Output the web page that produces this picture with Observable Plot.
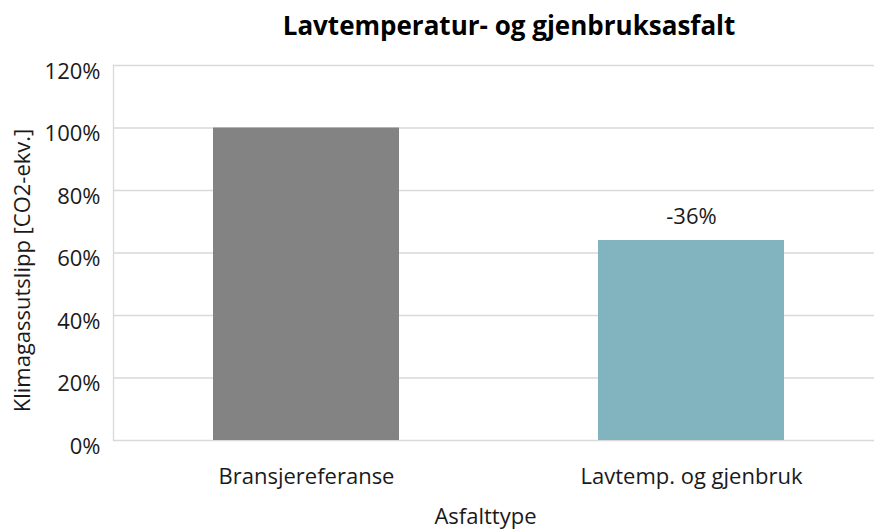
<!DOCTYPE html>
<html>
<head>
<meta charset="utf-8">
<script src="https://cdn.jsdelivr.net/npm/d3@7"></script>
<script src="https://cdn.jsdelivr.net/npm/@observablehq/plot@0.6"></script>
<style>
  html, body { margin: 0; padding: 0; background: #fff; }
  svg { display: block; }
</style>
</head>
<body>
<div id="chart"></div>
<script>
const categories = ["Bransjereferanse", "Lavtemp. og gjenbruk"];
const values = [100, 64];
const labels = ["", "-36%"];
const colors = ["#838383", "#82b4bf"];
const yTicks = [0, 20, 40, 60, 80, 100, 120];
const title = "Lavtemperatur- og gjenbruksasfalt";
const xTitle = "Asfalttype";
const yTitle = "Klimagassutslipp [CO2-ekv.]";

const data = categories.map((c, i) => ({ cat: c, value: values[i], label: labels[i], color: colors[i] }));

const chart = Plot.plot({
  width: 874,
  height: 532,
  marginTop: 65,
  marginBottom: 92,
  marginLeft: 113,
  marginRight: 0,
  style: { fontFamily: "'Open Sans', sans-serif", fontSize: "22px", color: "#222", background: "#fff" },
  x: { domain: categories, range: [113.5, 883.5], paddingInner: 0.517, paddingOuter: 0.2585, label: null },
  y: { domain: [0, 120], label: null },
  marks: [
    Plot.ruleY(yTicks, { stroke: "#d9d9d9", strokeWidth: 1.3 }),
    Plot.frame({ anchor: "left", stroke: "#d9d9d9", strokeWidth: 1.3 }),
    Plot.barY(data, { x: "cat", y: "value", fill: "color" }),
    Plot.text(data, { x: "cat", y: "value", text: "label", dy: -24, fill: "#1a1a1a", fontSize: 22 }),
    Plot.axisY({ ticks: yTicks, tickSize: 0, tickPadding: 13, dy: 6, tickFormat: d => d + "%", fill: "#1a1a1a", fontSize: 22, label: null }),
    Plot.axisX({ tickSize: 0, tickPadding: 28, fill: "#1a1a1a", fontSize: 22, label: null }),
    Plot.text([title], { frameAnchor: "top", textAnchor: "middle", lineAnchor: "middle", dx: 15, dy: -39, fontWeight: "bold", fontSize: 26, fill: "#000" }),
    Plot.text([xTitle], { frameAnchor: "bottom", textAnchor: "middle", lineAnchor: "middle", dx: -8.5, dy: 76, fontSize: 22, fill: "#1a1a1a" }),
    Plot.text([yTitle], { frameAnchor: "left", textAnchor: "middle", lineAnchor: "middle", dx: -91, dy: 17.5, rotate: -90, fontSize: 22, fill: "#1a1a1a" })
  ]
});
document.getElementById("chart").append(chart);
</script>
</body>
</html>
